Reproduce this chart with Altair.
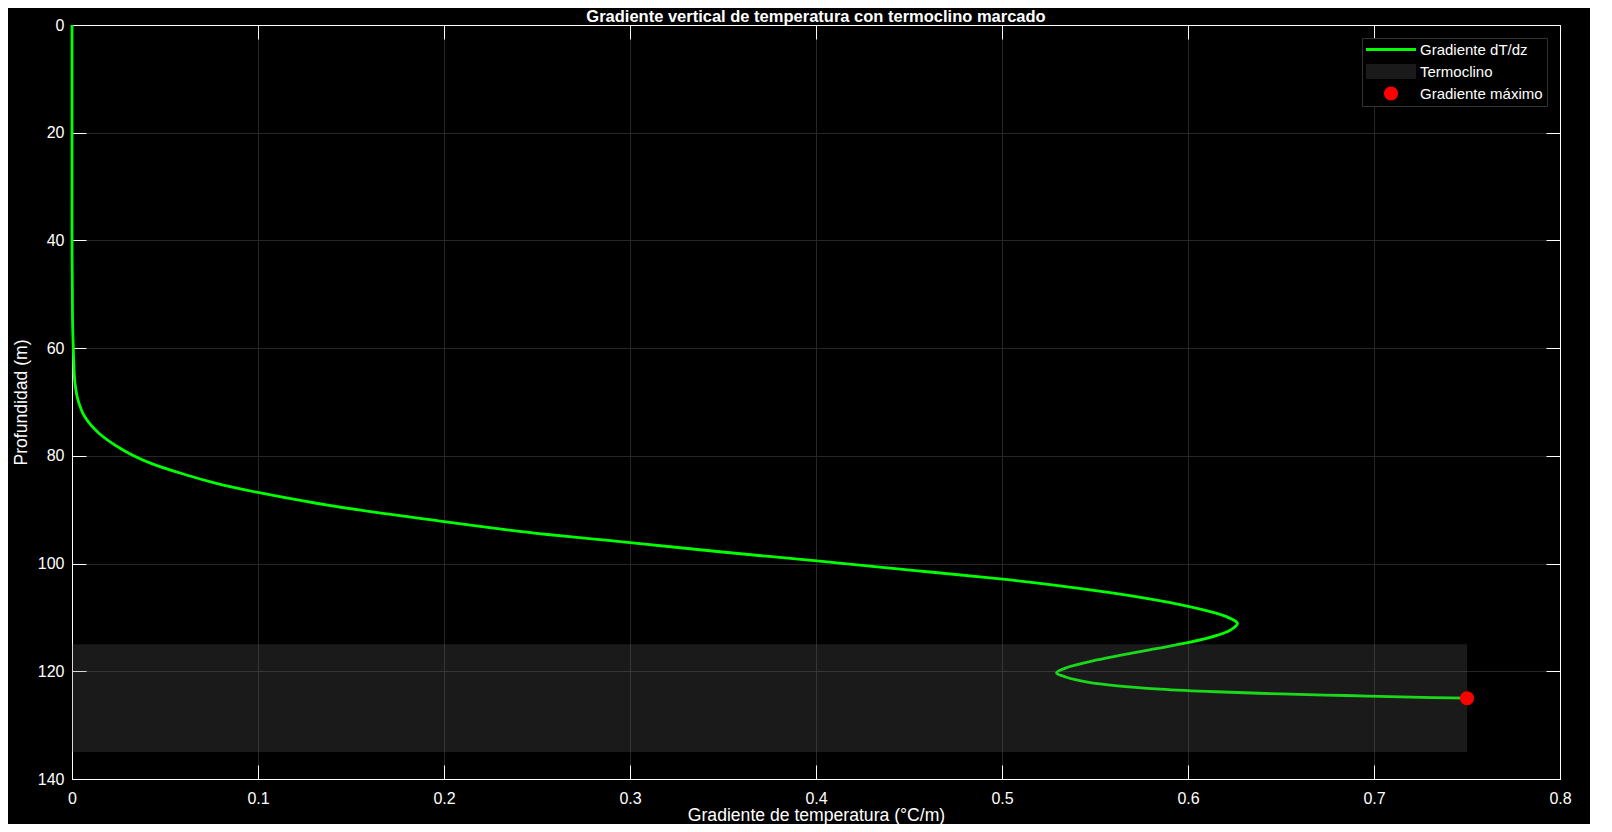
import altair as alt
import pandas as pd

# ---- data ----
depth_m = [0, 10, 20, 30, 40, 50, 55, 60, 63, 66.5, 69.6, 72.7, 75.8, 78.9,
           81.3, 83.6, 85.1, 86.8, 88.8, 90.7, 92.2, 93.8, 94.6, 95.4, 96.1, 97.9,
           99.6, 101.3, 102.8, 104.0, 105.5, 106.6, 107.7, 109.2, 109.9, 111.1,
           112.3, 113.3, 114.7, 115.9, 117.0, 117.9, 119.3, 120.3, 121.1, 122.0,
           122.7, 123.3, 123.8, 124.2, 124.5, 124.8, 125.0]
gradient = [0, 0, 0, 0, 0, 0.0002, 0.0003, 0.0007, 0.001, 0.0016, 0.0032, 0.0068,
            0.0145, 0.0274, 0.0418, 0.062, 0.0776, 0.1, 0.1314, 0.1672,
            0.2, 0.235, 0.2557, 0.2794, 0.30, 0.351, 0.4033, 0.4534, 0.4977, 0.528,
            0.560, 0.580, 0.597, 0.615, 0.621, 0.6266, 0.623, 0.616, 0.600,
            0.581, 0.564, 0.551, 0.535, 0.5293, 0.5346, 0.546, 0.562, 0.585,
            0.615, 0.650, 0.685, 0.720, 0.75]

thermo_top = [115]
thermo_bottom = [135]
thermo_x_start = [0.0]
thermo_x_end = [0.75]

max_grad = [0.75]
max_depth = [125]

x_ticks = [0, 0.1, 0.2, 0.3, 0.4, 0.5, 0.6, 0.7, 0.8]
y_ticks = [0, 20, 40, 60, 80, 100, 120, 140]

legend_names = ["Gradiente dT/dz", "Termoclino", "Gradiente máximo"]
legend_colors = ["#00ff00", "#1a1a1a", "#ff0000"]
legend_shapes = [
    "M-1,-0.06H1V0.06H-1Z",
    "M-1,-0.3H1V0.3H-1Z",
    "M0.28,0A0.28,0.28 0 1,1 -0.28,0A0.28,0.28 0 1,1 0.28,0Z",
]

curve = pd.DataFrame({"grad": gradient, "depth": depth_m})
thermo = pd.DataFrame({"x0": thermo_x_start, "x1": thermo_x_end,
                       "y0": thermo_top, "y1": thermo_bottom})
peak = pd.DataFrame({"grad": max_grad, "depth": max_depth,
                     "entry": [legend_names[2]]})

FONT = "Liberation Sans"
TICK_IN = {"expr": "-14"}

xscale = alt.Scale(domain=[0, 0.8], nice=False, zero=False)
yscale = alt.Scale(domain=[0, 140], reverse=True, nice=False, zero=False)

common = dict(domainColor="white", domainWidth=1, tickColor="white", tickWidth=1,
              tickSize=TICK_IN, labelFlush=False, labelOverlap=False)

x_bottom = alt.Axis(values=x_ticks, format="~g", title="Gradiente de temperatura (°C/m)",
                    grid=True, gridColor="#262626", gridWidth=1,
                    labelColor="white", labelFont=FONT, labelFontSize=16, labelPadding=25,
                    titleColor="white", titleFont=FONT, titleFontSize=17.6,
                    titleFontWeight="normal", titleBaseline="alphabetic", titleY=41,
                    **common)
y_left = alt.Axis(values=y_ticks, format="d", title="Profundidad (m)",
                  grid=True, gridColor="#262626", gridWidth=1,
                  labelColor="white", labelFont=FONT, labelFontSize=16, labelPadding=22,
                  titleColor="white", titleFont=FONT, titleFontSize=17.6,
                  titleFontWeight="normal", titlePadding=7, **common)
x_top = alt.Axis(orient="top", values=x_ticks, labels=False, title=None, grid=False, **common)
y_right = alt.Axis(orient="right", values=y_ticks, labels=False, title=None, grid=False, **common)

line = alt.Chart(curve).mark_line(color="#00ff00", strokeWidth=2.8,
                                  interpolate="catmull-rom").encode(
    x=alt.X("grad:Q", scale=xscale, axis=x_bottom),
    y=alt.Y("depth:Q", scale=yscale, axis=y_left),
    order=alt.Order("depth:Q"),
)

band = alt.Chart(thermo).mark_rect(color="#666666", opacity=0.25).encode(
    x=alt.X("x0:Q", scale=xscale, axis=x_top),
    x2="x1:Q",
    y=alt.Y("y0:Q", scale=yscale, axis=y_right),
    y2="y1:Q",
)

leg = alt.Legend(title=None, orient="top-right", offset=13, fillColor="black",
                 strokeColor="#333333", padding=4, labelColor="white", labelFont=FONT,
                 labelFontSize=15, symbolSize=2500, symbolStrokeWidth=0,
                 symbolOpacity=1, clipHeight=15, rowPadding=6, labelOffset=4,
                 labelLimit=400)

point = alt.Chart(peak).mark_point(filled=True, size=2500, opacity=1, strokeWidth=0).encode(
    x=alt.X("grad:Q", scale=xscale, axis=None),
    y=alt.Y("depth:Q", scale=yscale, axis=None),
    color=alt.Color("entry:N", scale=alt.Scale(domain=legend_names, range=legend_colors),
                    legend=leg),
    shape=alt.Shape("entry:N", scale=alt.Scale(domain=legend_names, range=legend_shapes),
                    legend=leg),
)

chart = alt.layer(line, band, point).resolve_axis(
    x="independent", y="independent"
).properties(
    width=1488, height=754,
    padding={"left": 64, "top": 17, "right": 30, "bottom": 45},
    autosize=alt.AutoSizeParams(type="none"),
    title=alt.TitleParams("Gradiente vertical de temperatura con termoclino marcado",
                          color="white", font=FONT, fontSize=16.5, fontWeight="bold",
                          anchor="middle", offset=6, dy=14),
).configure(
    background="black", font=FONT
).configure_view(strokeWidth=0)

chart.save("out.html", embed_options={"renderer": "svg", "actions": False})
